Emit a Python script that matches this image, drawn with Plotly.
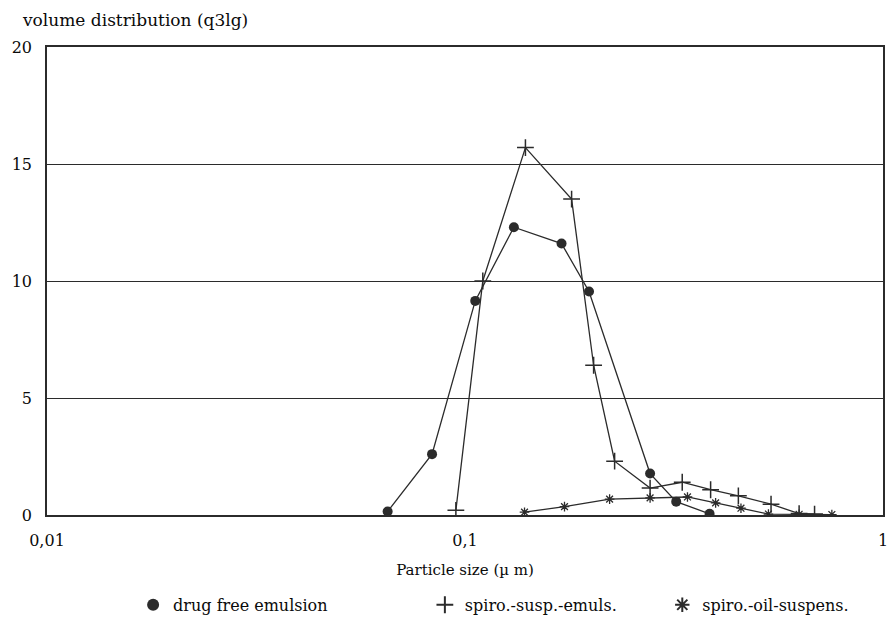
import plotly.graph_objects as go

# Particle size classes (µm) and volume distribution q3lg for each sample
emulsion_size = [0.0653, 0.0834, 0.1058, 0.1309, 0.1702, 0.1980, 0.2772, 0.3201, 0.3847]
emulsion_q3 = [0.15, 2.6, 9.15, 12.3, 11.6, 9.55, 1.77, 0.57, 0.05]

susp_emuls_size = [0.0951, 0.1103, 0.1395, 0.1799, 0.2031, 0.2280, 0.2772, 0.3309,
                   0.3869, 0.4508, 0.5397, 0.6300, 0.6859]
susp_emuls_q3 = [0.2, 10.0, 15.7, 13.5, 6.4, 2.3, 1.15, 1.4, 1.08, 0.82, 0.46, 0.06, 0.04]

oil_susp_size = [0.1388, 0.1730, 0.2218, 0.2772, 0.3406, 0.3977, 0.4573, 0.5320, 0.6300, 0.7545]
oil_susp_q3 = [0.12, 0.36, 0.68, 0.73, 0.77, 0.52, 0.29, 0.04, 0.03, 0.02]

legend_names = ["drug free emulsion", "spiro.-susp.-emuls.", "spiro.-oil-suspens."]

x_tick_vals = [0.01, 0.1, 1]
x_tick_text = ["0,01", "0,1", "1"]
y_tick_vals = [0, 5, 10, 15, 20]

INK = "#2b2b2b"
TEXT = "#0a0a0a"
FONT = "DejaVu Serif"

fig = go.Figure()

series = [
    (emulsion_size, emulsion_q3, dict(symbol="circle", size=10, color=INK)),
    (susp_emuls_size, susp_emuls_q3,
     dict(symbol="cross-thin", size=12, color=INK, line=dict(width=1.5, color=INK))),
    (oil_susp_size, oil_susp_q3,
     dict(symbol="asterisk", size=8, color=INK, line=dict(width=1.3, color=INK))),
]

for xs, ys, mk in series:
    fig.add_trace(go.Scatter(
        x=xs, y=ys, mode="lines+markers",
        line=dict(color=INK, width=1.3),
        marker=mk, showlegend=False, hoverinfo="x+y",
    ))

# Legend entries show the marker only, one legend box per entry
legend_keys = ["legend", "legend2", "legend3"]
legend_x = [0.103, 0.452, 0.736]
for (xs, ys, mk), name, key in zip(series, legend_names, legend_keys):
    fig.add_trace(go.Scatter(
        x=[None], y=[None], mode="markers", name=name,
        marker=mk, legend=key, showlegend=True,
    ))

legend_style = dict(
    orientation="h", yanchor="middle", xanchor="left", y=-0.192,
    font=dict(family=FONT, size=16, color=TEXT),
    bgcolor="rgba(0,0,0,0)", itemsizing="constant", itemwidth=30,
)

fig.update_layout(
    width=889, height=620,
    margin=dict(l=47, r=6, t=47, b=105, autoexpand=False),
    paper_bgcolor="white", plot_bgcolor="white",
    font=dict(family=FONT, size=15, color=TEXT),
    xaxis=dict(
        type="log", range=[-2, 0], automargin=False,
        tickvals=x_tick_vals, ticktext=x_tick_text,
        showgrid=False, zeroline=False,
        showline=True, linecolor=INK, linewidth=1.5, mirror=True,
        ticks="", ticklabelstandoff=10,
        tickfont=dict(family=FONT, size=16, color=TEXT),
        title=dict(text="Particle size (\u00b5 m)", standoff=16,
                   font=dict(family=FONT, size=15, color=TEXT)),
    ),
    yaxis=dict(
        range=[0, 20], tickvals=y_tick_vals, automargin=False,
        showgrid=True, gridcolor=INK, gridwidth=1.2,
        zeroline=False,
        showline=True, linecolor=INK, linewidth=1.5, mirror=True,
        ticks="", ticklabelstandoff=10,
        tickfont=dict(family=FONT, size=16, color=TEXT),
    ),
    legend=dict(legend_style, x=legend_x[0]),
    legend2=dict(legend_style, x=legend_x[1]),
    legend3=dict(legend_style, x=legend_x[2]),
    annotations=[dict(
        text="volume distribution (q3lg)", xref="paper", yref="paper",
        x=-27 / 836, y=1 + 27 / 468, xanchor="left", yanchor="middle",
        showarrow=False, font=dict(family=FONT, size=17, color=TEXT),
    )],
)

fig.write_html("out.html")
